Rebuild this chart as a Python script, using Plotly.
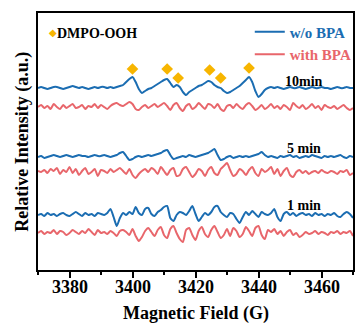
import numpy as np
import plotly.graph_objects as go

field = list(range(3370, 3471))  # Magnetic field (G)

# trace offsets (stacking of spectra)
offsets = {"b10": 182, "r10": 163, "b5": 113, "r5": 98, "b1": 55, "r1": 37}

b10 = ([0,1,0,-1,0,1,1,0,-1,0,1,2,1,0,1,0,-1,0,1,0,1,1,0,1,0,1,2] +
       [3,6,9,11,6,-1,-5,-3,-1,0,2,4,6,8,9,5,1,3,1,-4,-7,-4,-2,0,2,3,5,7,6,3,1,0,-3,-5,-4,-2,0,2,5,8,11,6,-3,-9,-6,-2,0] +
       [1,0,1,0,-1,0,1,0,0,1,0,-1,0,1,0,0,1,0,0,-1,0,1,0,0,1,0,0])
r10 = ([0,2,-1,1,-2,3,0,-2,2,-1,1,3,-1,0,2,-2,1,0,3,-1,2,0,-2,1,3,4,2] +
       [1,3,5,3,-2,-3,0,2,-1,1,3,0,2,4,1,-3,2,4,-1,-4,1,3,-2,0,4,1,-2,3,2,-1,3,-2,-4,1,2,-1,3,0,-2,2,4,1,-3,-1,2,-2,0] +
       [3,-1,1,-2,2,0,-3,4,1,-1,2,-2,0,3,-1,1,-3,2,0,-1,1,-2,0,2,-1,-3,-1])
b5 = ([0,1,-1,0,1,2,1,0,1,2,1,0,1,2,1,1,0,1,2,1,1,2,1,0,1,2] +
      [4,5,1,-3,-2,0,1,0,1,2,1,2,3,4,6,7,2,-2,-1,0,1,0,2,1,0,1,2,3,4,6,8,2,-3,-2,0,1,-1,0,1,0,1,0,1,2,3,5,2,0] +
      [1,0,-1,1,0,1,2,0,1,-1,0,1,0,2,1,0,-1,1,0,1,0,1,2,0,-1,1,0])
r5 = ([1,0,2,-1,3,1,4,-2,2,0,5,-1,3,-3,1,4,-2,0,3,-4,2,1,-1,3,0,2] +
      [4,1,-2,3,-3,-6,-2,1,3,0,4,2,-2,5,1,-3,2,4,-4,-3,3,5,0,-5,-2,3,1,-4,2,5,-1,-3,3,6,9,2,-4,-2,3,1,-3,2,5,-1,-4,3,0,2] +
      [5,-2,3,-4,1,4,-3,-5,0,2,-1,1,-2,0,1,-1,2,0,-1,1,0,-2,1,0,2,-3,-1])
b1 = ([0,1,-1,2,0,1,-1,1,2,0,-1,1,3,1,-1,2,0,1,-1,2,1,0,2] +
      [6,-2,-11,-3,2,0,3,1,8,2,0,6,7,1,-1,3,5,8,9,-3,-6,0,3,2,0,4,9,1,-6,-2,2,0,3,8,9,3,0,-2,2,1,-4,-8,-2,3,0,4,1,-2,3,1,0,2,6,-2,-6] +
      [1,3,0,2,-1,1,2,0,1,-1,2,0,1,-1,1,0,2,-1,-2,1,3,1,-3])
r1 = ([0,2,-1,1,0,3,-1,2,1,-2,0,3,1,-1,2,0,4,1,-2,3,0,1,-1,2,0,-3] +
      [2,3,1,-2,4,-3,-8,-4,2,5,1,-3,3,6,-2,-5,4,7,0,-6,-9,3,5,-2,-7,2,6,-1,-4,3,7,1,-5,-2,4,-3,5,2,-4,-1,6,2,-3,5,7,-2,-6,3,1,4] +
      [-1,2,-3,1,3,-2,0,-4,-2,1,-1,0,2,-1,1,0,-2,1,0,2,-1,1,0,2,-3])

series = {"b10": b10, "r10": r10, "b5": b5, "r5": r5, "b1": b1, "r1": r1}
for k, v in series.items():
    assert len(v) == len(field), (k, len(v))

dmpo_x = [3400, 3411, 3414.5, 3424.5, 3428, 3437]
dmpo_y = [201, 201, 192, 200, 192, 202]

time_labels = ["10min", "5 min", "1 min"]
tick_vals = [3380, 3400, 3420, 3440, 3460]

BLUE = "#1b6db2"
RED = "#e8666b"
GOLD = "#f7b500"
FONT = "Liberation Serif"

fig = go.Figure()
for key, color, name, show in [("b10", BLUE, "w/o BPA", True), ("r10", RED, "with BPA", True),
                               ("b5", BLUE, "", False), ("r5", RED, "", False),
                               ("b1", BLUE, "", False), ("r1", RED, "", False)]:
    y = np.array(series[key]) + offsets[key]
    fig.add_trace(go.Scatter(
        x=field, y=y, mode="lines", line=dict(color=color, width=2, shape="spline", smoothing=0.6),
        name=f"<b><span style='color:{color}'>{name}</span></b>" if name else key,
        showlegend=show))

fig.add_trace(go.Scatter(x=dmpo_x, y=dmpo_y, mode="markers", showlegend=False,
                         marker=dict(symbol="diamond", color=GOLD, size=9)))

label_y = [189, 122, 65]
for t, yy in zip(time_labels, label_y):
    fig.add_annotation(x=3454.4, y=yy, text=f"<b>{t}</b>", showarrow=False,
                       font=dict(family=FONT, size=14, color="black"))

# x tick labels
for v in tick_vals:
    fig.add_annotation(x=v, xref="x", yref="paper", y=-0.066, xanchor="center", yanchor="middle",
                       text=f"<b>{v}</b>", showarrow=False,
                       font=dict(family=FONT, size=18, color="black"))

fig.add_annotation(xref="paper", yref="paper", x=0.055, y=0.922, xanchor="left", yanchor="middle",
                   text="<b>DMPO-OOH</b>", showarrow=False,
                   font=dict(family=FONT, size=14, color="black"))
fig.add_annotation(xref="paper", yref="paper", x=0.047, y=0.925, xanchor="center", yanchor="middle",
                   text="◆", showarrow=False,
                   font=dict(family="DejaVu Sans", size=10, color=GOLD))

fig.add_annotation(xref="paper", yref="paper", x=0.5, y=-0.17, xanchor="center", yanchor="middle",
                   text="<b>Magnetic Field (G)</b>", showarrow=False,
                   font=dict(family=FONT, size=18, color="black"))
fig.add_annotation(xref="paper", yref="paper", x=-0.05, y=0.5, xanchor="center", yanchor="middle",
                   text="<b>Relative Intensity (a.u.)</b>", showarrow=False, textangle=-90,
                   font=dict(family=FONT, size=18, color="black"))

fig.update_layout(
    width=358, height=326,
    margin=dict(l=38, r=1, t=13, b=56),
    paper_bgcolor="white", plot_bgcolor="white",
    showlegend=True,
    legend=dict(x=1.012, y=0.99, xanchor="right", yanchor="top", bgcolor="rgba(0,0,0,0)",
                font=dict(family=FONT, size=15), tracegroupgap=0, itemwidth=30),
    xaxis=dict(range=[3370, 3470], showgrid=False, zeroline=False,
               showline=True, linecolor="black", linewidth=2, mirror=True,
               ticks="outside", ticklen=6, tickwidth=1.5, tickcolor="black",
               tickvals=tick_vals, showticklabels=False,
               minor=dict(ticks="outside", ticklen=3, tickwidth=1.5, tickcolor="black", dtick=10)),
    yaxis=dict(range=[0, 257], showgrid=False, zeroline=False, showticklabels=False,
               showline=True, linecolor="black", linewidth=2, mirror=True, ticks=""),
)

fig.write_html("out.html")
